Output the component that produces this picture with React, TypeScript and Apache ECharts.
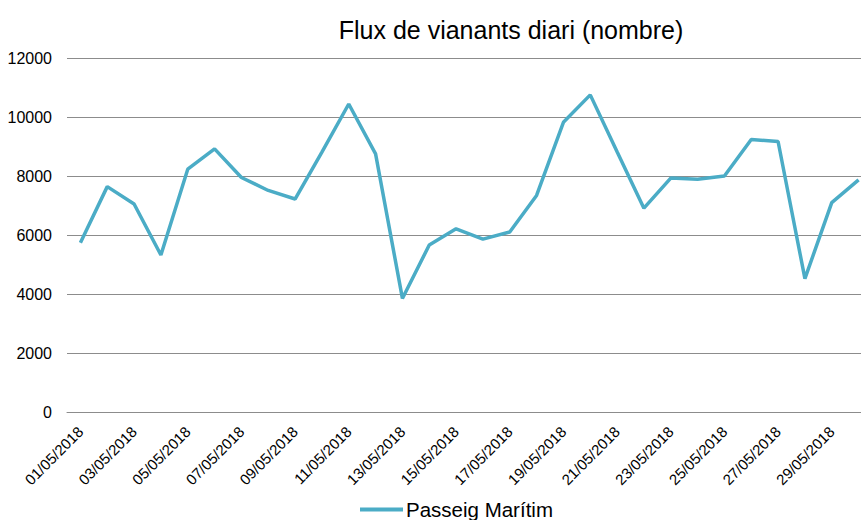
import React, { useEffect, useRef } from "react";
import * as echarts from "echarts";

const titleText = "Flux de vianants diari (nombre)";
const seriesName = "Passeig Marítim";
const categories = [
  "01/05/2018", "02/05/2018", "03/05/2018", "04/05/2018", "05/05/2018",
  "06/05/2018", "07/05/2018", "08/05/2018", "09/05/2018", "10/05/2018",
  "11/05/2018", "12/05/2018", "13/05/2018", "14/05/2018", "15/05/2018",
  "16/05/2018", "17/05/2018", "18/05/2018", "19/05/2018", "20/05/2018",
  "21/05/2018", "22/05/2018", "23/05/2018", "24/05/2018", "25/05/2018",
  "26/05/2018", "27/05/2018", "28/05/2018", "29/05/2018", "30/05/2018",
];
const values = [
  5740, 7640, 7050, 5320, 8230, 8920, 7950, 7510, 7220, 8810,
  10440, 8750, 3850, 5660, 6210, 5860, 6100, 7340, 9820, 10750,
  8820, 6910, 7930, 7890, 8000, 9240, 9170, 4520, 7100, 7870,
];
const yTicks = { min: 0, max: 12000, interval: 2000 };

export default function App() {
  const ref = useRef<HTMLDivElement>(null);
  useEffect(() => {
    if (!ref.current) return;
    const chart = echarts.init(ref.current, null, { renderer: "svg" });
    const font = "Liberation Sans, Arial, sans-serif";
    chart.setOption({
      animation: false,
      backgroundColor: "#ffffff",
      title: {
        text: titleText,
        left: 506,
        top: 12,
        textAlign: "center",
        textStyle: { fontFamily: font, fontSize: 25, fontWeight: "normal", color: "#000" },
      },
      grid: { left: 67, top: 58, bottom: 108, right: 0, containLabel: false },
      legend: {
        bottom: 0,
        left: 360,
        padding: 0,
        itemWidth: 43,
        itemHeight: 4,
        itemGap: 4,
        icon: "rect",
        textStyle: { fontFamily: font, fontSize: 20.5, color: "#000", padding: [0, 0, 0, -2] },
        data: [seriesName],
      },
      xAxis: {
        type: "category",
        data: categories,
        boundaryGap: true,
        axisLine: { lineStyle: { color: "#8c8c8c", width: 1 } },
        axisTick: { show: false },
        axisLabel: {
          interval: 1,
          rotate: 45,
          margin: 17,
          fontFamily: font,
          fontSize: 15,
          color: "#000",
        },
      },
      yAxis: {
        type: "value",
        min: yTicks.min,
        max: yTicks.max,
        interval: yTicks.interval,
        axisLine: { show: false },
        axisTick: { show: false },
        splitLine: { lineStyle: { color: "#8c8c8c", width: 1 } },
        axisLabel: {
          margin: 15,
          fontFamily: font,
          fontSize: 16,
          color: "#000",
          formatter: (v: number) => String(v),
        },
      },
      series: [
        {
          name: seriesName,
          type: "line",
          data: values,
          symbol: "none",
          lineStyle: { color: "#4bacc6", width: 3.5 },
          itemStyle: { color: "#4bacc6" },
        },
      ],
    });
    return () => chart.dispose();
  }, []);
  return (
    <div style={{ position: "fixed", left: 0, top: 0, width: 861, height: 520, overflow: "hidden", background: "#fff" }}>
      <div ref={ref} style={{ width: 872, height: 520 }} />
    </div>
  );
}
